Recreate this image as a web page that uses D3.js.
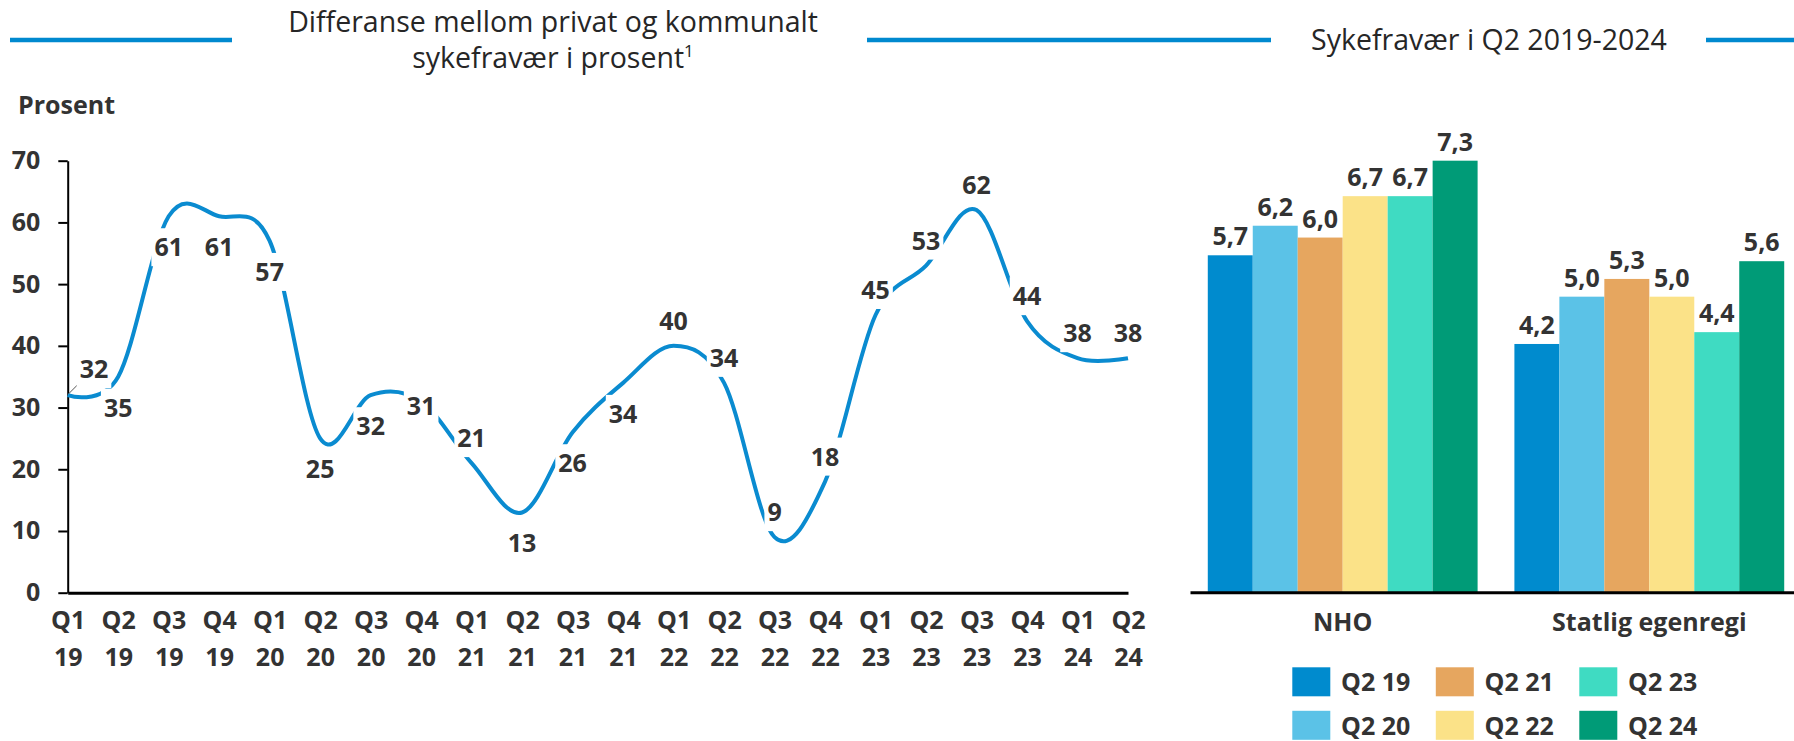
<!DOCTYPE html>
<html>
<head>
<meta charset="utf-8">
<script src="https://cdn.jsdelivr.net/npm/d3@7/dist/d3.min.js"></script>
<style>
  body { margin: 0; background: #fff; }
  text { font-family: "Open Sans", sans-serif; fill: #333; }
  .title { font-size: 28.5px; fill: #262626; }
  .bold { font-weight: 700; font-size: 25px; }
  .axis text { font-family: "Open Sans", sans-serif; font-weight: 700; font-size: 25px; fill: #333; }
</style>
</head>
<body>
<div id="chart"></div>
<script>
// Left chart: difference private vs municipal sick leave, per quarter
var periods = ["Q1 19", "Q2 19", "Q3 19", "Q4 19", "Q1 20", "Q2 20", "Q3 20", "Q4 20",
               "Q1 21", "Q2 21", "Q3 21", "Q4 21", "Q1 22", "Q2 22", "Q3 22", "Q4 22",
               "Q1 23", "Q2 23", "Q3 23", "Q4 23", "Q1 24", "Q2 24"];
var diffValues = [32, 35, 61, 61, 57, 25, 32, 31, 21, 13, 26, 34, 40, 34, 9, 18, 45, 53, 62, 44, 38, 38];
var yTicks = [0, 10, 20, 30, 40, 50, 60, 70];

// where each data label sits relative to its point
var labelPlacement = ["leader", "below", "below", "below", "below", "below", "below", "center",
                      "above", "below", "below", "below", "above", "above", "above", "above",
                      "above", "above", "above", "above", "above", "above"];

// Right chart: sick leave Q2 2019-2024
var groups = ["NHO", "Statlig egenregi"];
var seriesNames = ["Q2 19", "Q2 20", "Q2 21", "Q2 22", "Q2 23", "Q2 24"];
var nhoValues = [5.7, 6.2, 6.0, 6.7, 6.7, 7.3];
var statligValues = [4.2, 5.0, 5.3, 5.0, 4.4, 5.6];

var seriesColors = ["#008bce", "#5bc2e7", "#e6a65f", "#fbe288", "#3fdbc2", "#009b77"];

function init(){

    var width = 1794, height = 741;
    var ruleColor = "#0089cf";
    var lineColor = "#0a8bd0";

    var svg = d3.select("#chart")
        .append("svg")
        .attr("width", width)
        .attr("height", height);

    // Titles with the blue rules
    var rules = [[10, 232], [867, 1271], [1706, 1794]];
    svg.selectAll("line.rule")
        .data(rules)
        .join("line")
        .attr("class", "rule")
        .attr("x1", function(d){ return d[0]; })
        .attr("x2", function(d){ return d[1]; })
        .attr("y1", 40).attr("y2", 40)
        .attr("stroke", ruleColor)
        .attr("stroke-width", 4.5);

    svg.append("text")
        .attr("class", "title")
        .attr("x", 553).attr("y", 32)
        .attr("text-anchor", "middle")
        .text("Differanse mellom privat og kommunalt");

    var t2 = svg.append("text")
        .attr("class", "title")
        .attr("x", 553).attr("y", 68)
        .attr("text-anchor", "middle");
    t2.append("tspan").text("sykefravær i prosent");
    t2.append("tspan").attr("dy", -11).style("font-size", "17px").text("1");

    svg.append("text")
        .attr("class", "title")
        .attr("x", 1489).attr("y", 50)
        .attr("text-anchor", "middle")
        .text("Sykefravær i Q2 2019-2024");

    // ---------- Line chart ----------
    var xScale = d3.scalePoint()
        .domain(periods)
        .range([67.7, 1128]);

    var yScale = d3.scaleLinear()
        .domain([0, 70])
        .range([592.7, 160.7]);

    svg.append("text")
        .attr("class", "bold")
        .attr("x", 18).attr("y", 114)
        .text("Prosent");

    var yAxis = d3.axisLeft(yScale).tickValues(yTicks).tickSize(9.4).tickSizeOuter(0).tickPadding(18);

    var gy = svg.append("g")
        .attr("class", "y axis")
        .attr("transform", "translate(67.7,0)")
        .call(yAxis);
    gy.select(".domain").attr("stroke", "#000").attr("stroke-width", 2);
    gy.selectAll(".tick line").attr("stroke", "#000").attr("stroke-width", 2);

    var xAxis = d3.axisBottom(xScale).tickSize(0).tickPadding(0);

    var gx = svg.append("g")
        .attr("class", "x axis")
        .attr("transform", "translate(0,592.7)")
        .call(xAxis);
    gx.select(".domain").attr("stroke", "#000").attr("stroke-width", 3);

    // split "Q1 19" into two lines
    gx.selectAll(".tick text").each(function(d){
        var parts = d.split(" ");
        var t = d3.select(this).text(null).attr("dy", null).attr("y", null);
        t.append("tspan").attr("x", 0).attr("y", 36).text(parts[0]);
        t.append("tspan").attr("x", 0).attr("y", 73.5).text(parts[1]);
    });

    // smoothed line (Excel style)
    var valueline = d3.line()
        .x(function(d, i){ return xScale(periods[i]); })
        .y(function(d){ return yScale(d); })
        .curve(d3.curveCardinal.tension(0));

    svg.append("path")
        .datum(diffValues)
        .attr("fill", "none")
        .attr("stroke", lineColor)
        .attr("stroke-width", 4)
        .attr("d", valueline);

    // leader line for first label
    svg.append("line")
        .attr("x1", xScale(periods[0]) + 1).attr("y1", yScale(diffValues[0]) - 1.5)
        .attr("x2", xScale(periods[0]) + 10).attr("y2", yScale(diffValues[0]) - 10.5)
        .attr("stroke", "#555").attr("stroke-width", 1);

    var offsets = { below: 31, above: -25, center: 5, leader: -26 };

    var labels = svg.append("g")
        .selectAll("g")
        .data(diffValues)
        .join("g")
        .attr("transform", function(d, i){
            var p = labelPlacement[i];
            var dx = p === "leader" ? 26.3 : 0;
            return "translate(" + (xScale(periods[i]) + dx) + "," + (yScale(d) + offsets[p]) + ")";
        });

    labels.append("text")
        .attr("class", "bold")
        .attr("text-anchor", "middle")
        .attr("dy", "0.36em")
        .text(function(d){ return d; });

    // white boxes behind labels cut the line
    labels.each(function(){
        var g = d3.select(this);
        var b = g.select("text").node().getBBox();
        g.insert("rect", "text")
            .attr("x", b.x - 3)
            .attr("y", -19)
            .attr("width", b.width + 6)
            .attr("height", 38)
            .attr("fill", "#fff");
    });

    // ---------- Bar chart ----------
    var x0 = d3.scaleBand()
        .domain(groups)
        .range([1190, 1802])
        .paddingInner(0.12)
        .paddingOuter(0.058);

    var x1 = d3.scaleBand()
        .domain(seriesNames)
        .range([0, x0.bandwidth()]);

    var y2 = d3.scaleLinear()
        .domain([0, 8])
        .range([592.3, 119.3]);

    var nb = d3.formatLocale({decimal: ",", thousands: " ", grouping: [3], currency: ["", ""]}).format(".1f");

    var barData = groups.map(function(g, gi){
        var vals = gi === 0 ? nhoValues : statligValues;
        return { group: g, values: vals.map(function(v, si){ return { key: seriesNames[si], value: v, color: seriesColors[si] }; }) };
    });

    var gGroups = svg.append("g")
        .selectAll("g")
        .data(barData)
        .join("g")
        .attr("transform", function(d){ return "translate(" + x0(d.group) + ",0)"; });

    gGroups.selectAll("rect")
        .data(function(d){ return d.values; })
        .join("rect")
        .attr("x", function(d){ return x1(d.key); })
        .attr("y", function(d){ return y2(d.value); })
        .attr("width", x1.bandwidth())
        .attr("height", function(d){ return y2(0) - y2(d.value); })
        .attr("fill", function(d){ return d.color; });

    gGroups.selectAll("text")
        .data(function(d){ return d.values; })
        .join("text")
        .attr("class", "bold")
        .attr("text-anchor", "middle")
        .attr("x", function(d){ return x1(d.key) + x1.bandwidth() / 2; })
        .attr("y", function(d){ return y2(d.value) - 10; })
        .text(function(d){ return nb(d.value); });

    var gx2 = svg.append("g")
        .attr("class", "x axis")
        .attr("transform", "translate(0,592.3)")
        .call(d3.axisBottom(x0).tickSize(0).tickPadding(21));
    gx2.select(".domain").attr("stroke", "#000").attr("stroke-width", 3);

    // Legend: 3 columns, 2 rows
    var legend = svg.append("g")
        .selectAll("g")
        .data(seriesNames)
        .join("g")
        .attr("transform", function(d, i){
            var col = Math.floor(i / 2), row = i % 2;
            return "translate(" + (1292.3 + col * 143.5) + "," + (667.3 + row * 43.5) + ")";
        });

    legend.append("rect")
        .attr("width", 38)
        .attr("height", 29)
        .attr("fill", function(d, i){ return seriesColors[i]; });

    legend.append("text")
        .attr("class", "bold")
        .attr("x", 48.7)
        .attr("y", 24)
        .text(function(d){ return d; });
}

window.onload = init;
</script>
</body>
</html>
